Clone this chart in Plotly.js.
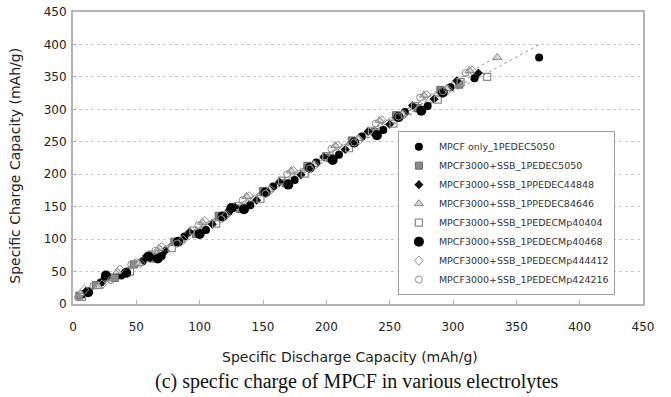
<!DOCTYPE html>
<html>
<head>
<meta charset="utf-8">
<script src="https://cdn.plot.ly/plotly-3.0.1.min.js"></script>
<style>html,body{margin:0;padding:0;background:#fff;}#chart{width:671px;height:397px;}</style>
</head>
<body>
<div id="chart"></div>
<script>
// ---- data ----
const seriesNames = [
  "MPCF only_1PEDEC5050",
  "MPCF3000+SSB_1PEDEC5050",
  "MPCF3000+SSB_1PPEDEC44848",
  "MPCF3000+SSB_1PPEDEC84646",
  "MPCF3000+SSB_1PEDECMp40404",
  "MPCF3000+SSB_1PEDECMp40468",
  "MPCF3000+SSB_1PEDECMp444412",
  "MPCF3000+SSB_1PEDECMp424216"
];
const s1x = [8, 22, 38, 55, 70, 88, 105, 123, 140, 158, 175, 192, 210, 228, 245, 262, 280, 298, 317, 368];
const s1y = [15, 33, 44, 66, 74, 104, 114, 142, 152, 181, 191, 218, 230, 258, 268, 296, 305, 334, 348, 380];
const s2x = [5, 18, 33, 48, 63, 80, 97, 115, 132, 150, 168, 185, 203, 220, 238, 255, 272, 290, 305];
const s2y = [13, 29, 40, 61, 70, 96, 108, 136, 146, 174, 186, 213, 225, 252, 265, 291, 302, 330, 338];
const s3x = [10, 25, 40, 58, 73, 92, 110, 128, 145, 163, 180, 198, 215, 233, 250, 268, 285, 303, 320];
const s3y = [19, 40, 47, 74, 82, 111, 123, 149, 160, 188, 199, 227, 238, 266, 277, 306, 316, 344, 356];
const s4x = [6, 20, 35, 52, 68, 85, 102, 120, 137, 155, 172, 190, 207, 225, 242, 260, 277, 295, 313, 335];
const s4y = [16, 27, 50, 62, 86, 98, 126, 138, 166, 176, 205, 215, 244, 255, 283, 293, 322, 332, 360, 380];
const s5x = [7, 28, 45, 62, 78, 95, 113, 130, 148, 165, 183, 200, 218, 236, 253, 270, 288, 306, 327];
const s5y = [11, 41, 50, 76, 86, 113, 124, 151, 162, 190, 201, 228, 240, 267, 278, 305, 315, 342, 350];
const s6x = [12, 26, 42, 60, 67, 83, 100, 118, 125, 135, 152, 170, 187, 205, 222, 240, 257, 275, 292];
const s6y = [18, 44, 48, 73, 70, 96, 108, 135, 148, 146, 172, 184, 210, 222, 249, 260, 288, 298, 326];
const s7x = [9, 23, 37, 53, 70, 87, 104, 121, 139, 156, 174, 191, 209, 226, 244, 261, 279, 296, 315];
const s7y = [22, 30, 53, 63, 88, 99, 128, 137, 166, 176, 205, 214, 244, 253, 283, 292, 322, 331, 360];
const s8x = [4, 16, 30, 46, 50, 65, 82, 99, 117, 134, 152, 169, 187, 204, 222, 239, 257, 274, 292, 310];
const s8y = [10, 28, 37, 61, 64, 82, 93, 121, 131, 160, 170, 200, 209, 239, 249, 278, 289, 318, 328, 356];
const xTicks = [0, 50, 100, 150, 200, 250, 300, 350, 400, 450];
const yTicks = [0, 50, 100, 150, 200, 250, 300, 350, 400, 450];

const xs = [s1x, s2x, s3x, s4x, s5x, s6x, s7x, s8x];
const ys = [s1y, s2y, s3y, s4y, s5y, s6y, s7y, s8y];

// ---- styles ----
const markerStyles = [
  {symbol: "circle", size: 8, color: "#000", line: {width: 0}},
  {symbol: "square", size: 7, color: "#8a8a8a", line: {width: 1, color: "#666"}},
  {symbol: "diamond", size: 7, color: "#111", line: {width: 0}},
  {symbol: "triangle-up", size: 8, color: "#d8d8d8", line: {width: 1, color: "#888"}},
  {symbol: "square-open", size: 7, color: "#8c8c8c", line: {width: 1.2}},
  {symbol: "circle", size: 10, color: "#000", line: {width: 0}},
  {symbol: "diamond-open", size: 7, color: "#8c8c8c", line: {width: 1}},
  {symbol: "circle-open", size: 7, color: "#8c8c8c", line: {width: 1}}
];

function fit(x, y) {
  const n = x.length;
  let sx = 0, sy = 0, sxx = 0, sxy = 0;
  for (let i = 0; i < n; i++) { sx += x[i]; sy += y[i]; sxx += x[i]*x[i]; sxy += x[i]*y[i]; }
  const b = (n*sxy - sx*sy) / (n*sxx - sx*sx);
  const a = (sy - b*sx) / n;
  return {a, b};
}

const traces = [];
for (let i = 0; i < 8; i++) {
  const f = fit(xs[i], ys[i]);
  const x0 = Math.min(...xs[i]), x1 = Math.max(...xs[i]);
  traces.push({
    x: [x0, x1], y: [f.a + f.b*x0, f.a + f.b*x1],
    mode: "lines", type: "scatter", showlegend: false, hoverinfo: "skip",
    line: {color: "#9a9a9a", width: 1, dash: "dot"}
  });
}
for (let i = 0; i < 8; i++) {
  traces.push({
    x: xs[i], y: ys[i], name: seriesNames[i],
    mode: "markers", type: "scatter",
    marker: markerStyles[i]
  });
}

const tickFont = {family: "DejaVu Sans", size: 12, color: "#222"};
const layout = {
  width: 671, height: 397,
  margin: {l: 73, r: 28, t: 12, b: 93},
  paper_bgcolor: "#fff", plot_bgcolor: "#fff",
  showlegend: true,
  xaxis: {
    range: [0, 450], tickvals: xTicks, ticktext: xTicks.map(String),
    showgrid: false, zeroline: false,
    showline: true, linecolor: "#b4b4b4", linewidth: 2, mirror: true,
    ticks: "inside", ticklen: 4, tickcolor: "#b4b4b4",
    tickfont: tickFont, ticklabelstandoff: 11
  },
  yaxis: {
    range: [0, 450], tickvals: yTicks, ticktext: yTicks.map(String),
    showgrid: true, gridcolor: "#c8c8c8", griddash: "dot", gridwidth: 1,
    zeroline: false,
    showline: true, linecolor: "#b4b4b4", linewidth: 2, mirror: true,
    ticks: "inside", ticklen: 4, tickcolor: "#b4b4b4",
    tickfont: tickFont, ticklabelstandoff: 2
  },
  legend: {
    x: 0.57, y: 0.592, xanchor: "left", yanchor: "top",
    bgcolor: "#fff", bordercolor: "#a0a0a0", borderwidth: 1,
    font: {family: "DejaVu Sans", size: 9.5, color: "#333"},
    tracegroupgap: 0, itemwidth: 30
  },
  annotations: [
    {text: "Specific Discharge Capacity (mAh/g)", xref: "paper", yref: "paper",
     x: 0.486, y: -0.18, xanchor: "center", yanchor: "middle", showarrow: false,
     font: {family: "DejaVu Sans", size: 14, color: "#222"}},
    {text: "Specific Charge Capacity (mAh/g)", xref: "paper", yref: "paper",
     x: -0.102, y: 0.473, xanchor: "center", yanchor: "middle", showarrow: false, textangle: -90,
     font: {family: "DejaVu Sans", size: 14, color: "#222"}},
    {text: "(c) specfic charge of MPCF in various electrolytes", xref: "paper", yref: "paper",
     x: 0.498, y: -0.264, xanchor: "center", yanchor: "middle", showarrow: false,
     font: {family: "Liberation Serif", size: 20, color: "#111"}}
  ]
};

Plotly.newPlot("chart", traces, layout, {staticPlot: true, displayModeBar: false});
</script>
</body>
</html>
